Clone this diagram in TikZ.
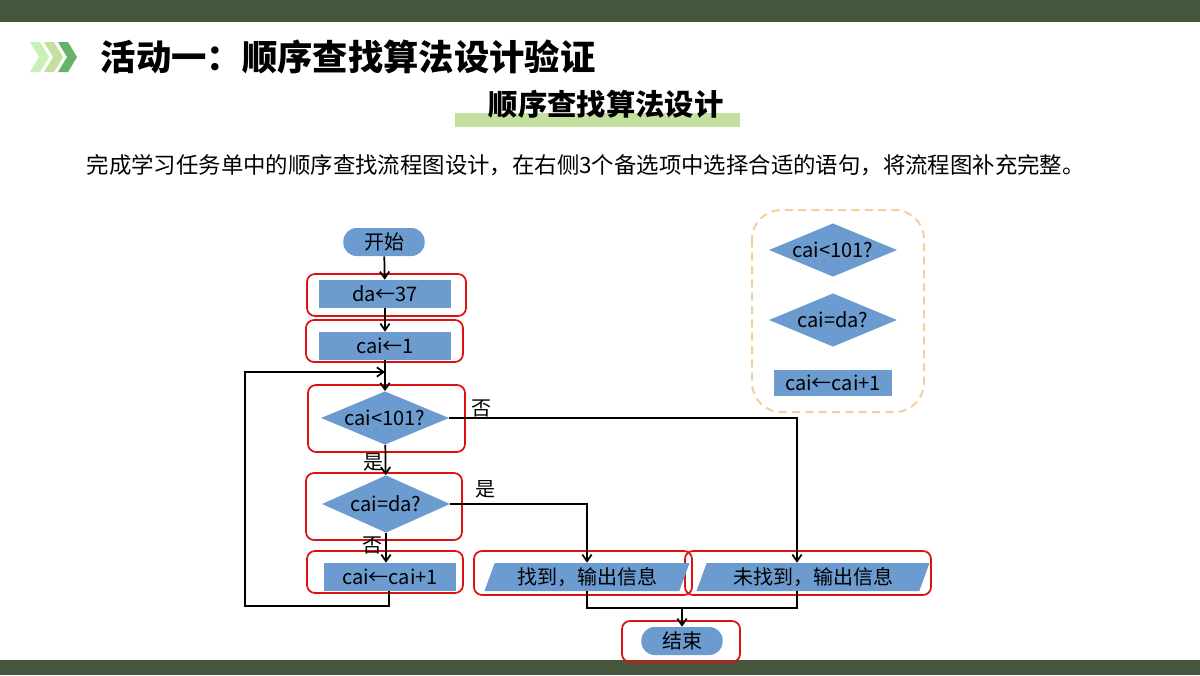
\documentclass[tikz,border=0pt]{standalone}
\usepackage{fontspec}
\setmainfont{Noto Sans CJK SC}
\usetikzlibrary{shapes.geometric,arrows.meta}
\definecolor{bandg}{HTML}{44573C}
\definecolor{boxb}{HTML}{6C9BD0}
\definecolor{lgreen}{HTML}{C5DFA0}
\definecolor{dashc}{HTML}{F5CE9C}
\definecolor{rbox}{HTML}{E01010}
\begin{document}
\begin{tikzpicture}[x=0.75pt,y=-0.75pt,
  txt/.style={font=\fontsize{15}{17}\selectfont},
  rectn/.style={draw=none,fill=boxb,minimum width=#1*0.75pt,minimum height=21pt,inner sep=0pt,txt},
  pill/.style={fill=boxb,rounded corners=10pt,minimum width=61pt,minimum height=21pt,inner sep=0pt,txt},
  dia/.style={diamond,fill=boxb,aspect=2.4,inner sep=0pt,minimum width=96pt,minimum height=40pt,txt},
  para/.style={trapezium,trapezium left angle=62,trapezium right angle=118,trapezium stretches body,fill=boxb,minimum height=21pt,inner sep=0pt,minimum width=#1*0.75pt,txt},
  red/.style={draw=rbox,line width=1.3pt,rounded corners=6pt},
  ln/.style={line width=1.3pt},
  arr/.style={ln,-{Straight Barb[length=5pt,width=7pt]}},
  lab/.style={font=\fontsize{15}{17}\selectfont}]
\useasboundingbox (0,0) rectangle (1200,675);
\fill[white] (0,0) rectangle (1200,675);
\fill[bandg] (0,0) rectangle (1200,22);
\fill[bandg] (0,660) rectangle (1200,675);
% chevrons
\foreach \x/\c in {30/green!15!lgreen!60,44/lgreen,58/green!50!black!60} {
  \fill[\c] (\x,42)--(\x+10,42)--(\x+19,57)--(\x+10,72)--(\x,72)--(\x+9,57)--cycle;}
\node[anchor=west,font=\fontsize{26.5}{30}\selectfont\bfseries] (title) at (96,57) {活动一：顺序查找算法设计验证};
\fill[lgreen] (455,113) rectangle (740,127);
\node[font=\fontsize{22}{26}\selectfont\bfseries] (sub) at (606,104) {顺序查找算法设计};
\node[anchor=west,font=\fontsize{16.8}{19}\selectfont] (ins) at (82,165) {完成学习任务单中的顺序查找流程图设计，在右侧3个备选项中选择合适的语句，将流程图补充完整。};
% red boxes
\draw[red] (307,274) rectangle (466,316);
\draw[red] (306,320) rectangle (463,362);
\draw[red] (308,385) rectangle (465,452);
\draw[red] (306,473) rectangle (462,540);
\draw[red] (307,551) rectangle (463,593);
\draw[red] (474,551) rectangle (692,595);
\draw[red] (685,551) rectangle (931,595);
\draw[red] (622,621) rectangle (740,662);
% nodes
\node[pill] (start) at (384,242) {开始};
\node[rectn=132] (da) at (385,294) {da←37};
\node[rectn=132] (cai) at (385,346) {cai←1};
\coordinate (merge) at (385,372);
\node[dia] (d1) at (385,418) {cai<101?};
\node[dia,minimum height=43pt] (d2) at (386,504) {cai=da?};
\node[rectn=132] (inc) at (390,577) {cai←cai+1};
\node[para=205] (found) at (587,577) {找到，输出信息};
\node[para=233] (nf) at (813,577) {未找到，输出信息};
\node[pill] (end) at (682,641) {结束};
\coordinate (lp) at (245,606);
\coordinate (j) at (682,608);
% options
\draw[dashc,line width=1.5pt,dash pattern=on 6pt off 4pt,rounded corners=22pt] (752,210) rectangle (924,412);
\node[dia] (o1) at (833,250) {cai<101?};
\node[dia] (o2) at (833,320) {cai=da?};
\node[rectn=118,minimum height=20pt] (o3) at (833,383) {cai←cai+1};
% connectors
\draw[arr] (start) -- (da);
\draw[arr] (da) -- (cai);
\draw[ln] (cai) -- (merge);
\draw[arr] (merge) -- (d1);
\draw[arr] (d1) -- (d2);
\draw[arr] (d2.south) -- (inc.north -| d2.south);
\draw[arr] (d1.east) -| (nf.north -| 797,0);
\draw[arr] (d2.east) -| (found.north);
\draw[arr] (inc.south -| 389,0) |- (lp) |- (merge);
\draw[ln] (found.south) |- (j);
\draw[ln] (nf.south -| 797,0) |- (j);
\draw[arr] (j) -- (end);
\node[lab] at (481,408) {否};
\node[lab] at (373,462) {是};
\node[lab] at (485,489) {是};
\node[lab] at (372,545) {否};
\end{tikzpicture}
\end{document}
